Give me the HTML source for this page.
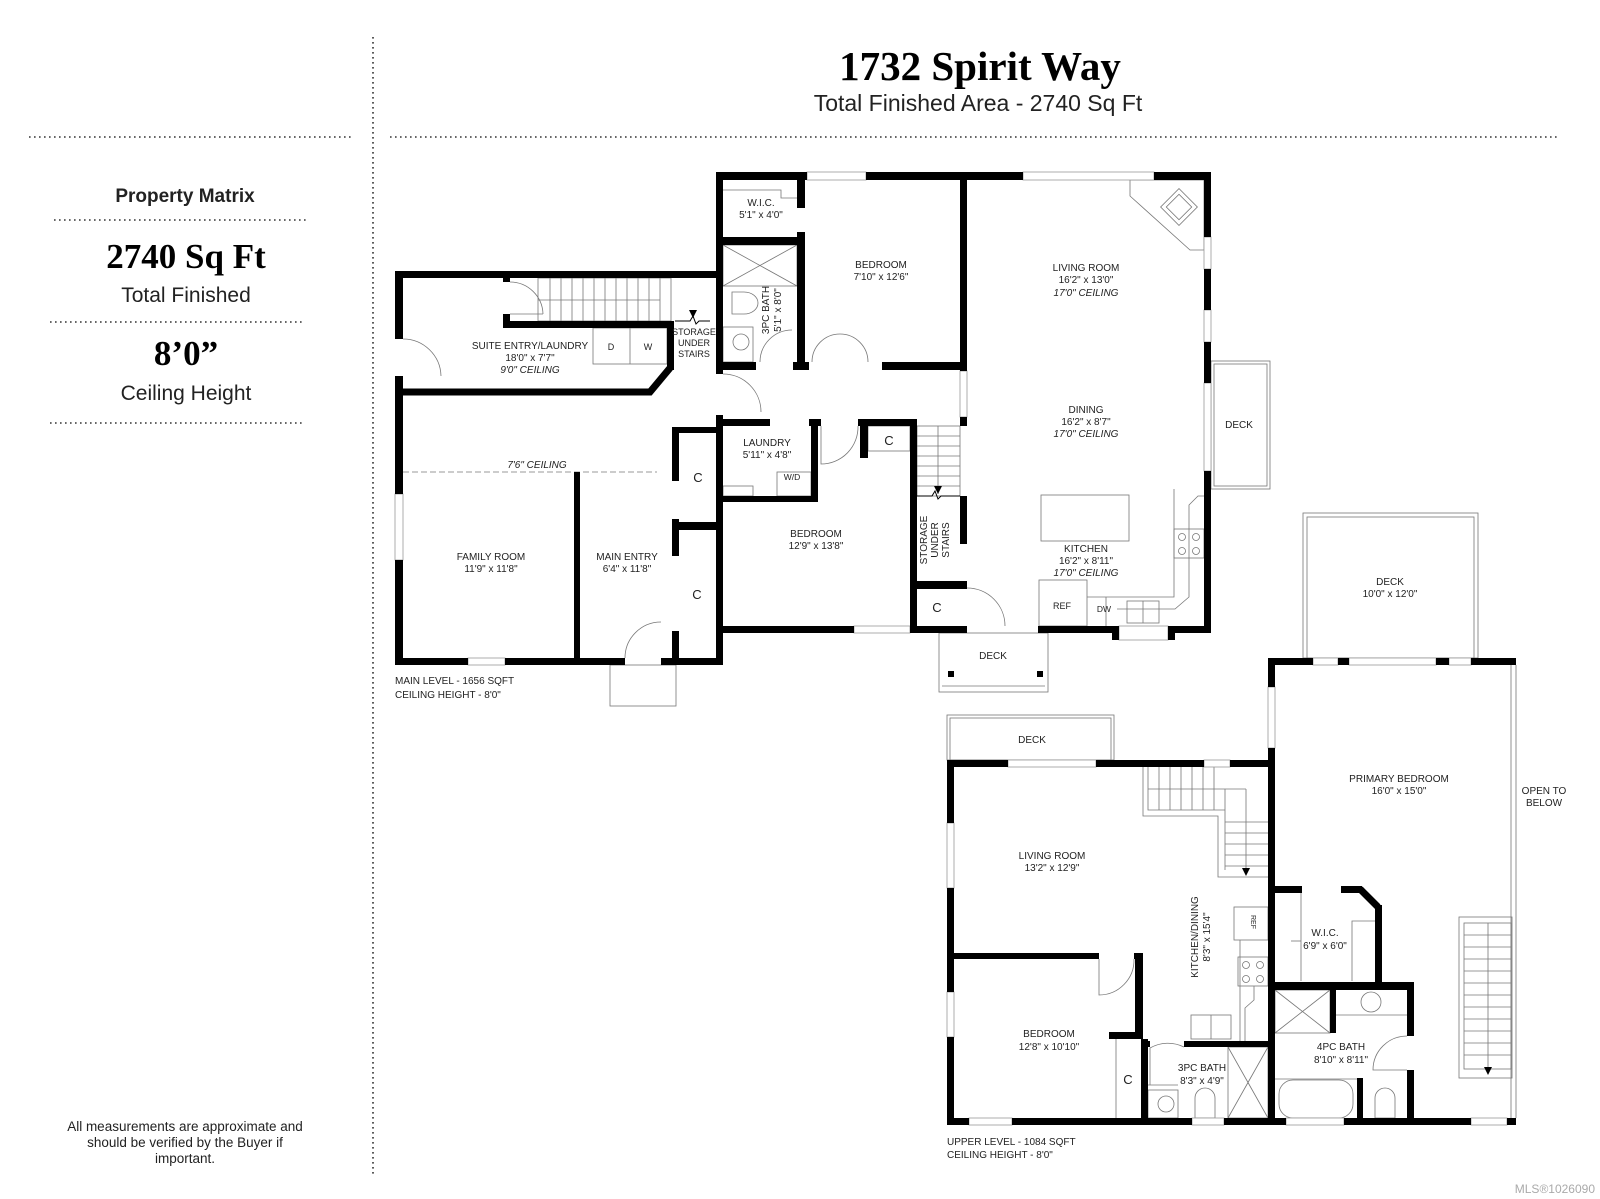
<!DOCTYPE html>
<html><head><meta charset="utf-8"><style>
html,body{margin:0;padding:0;background:#fff;}
svg{display:block}
.l{font-family:"Liberation Sans",sans-serif;font-size:10px;fill:#222;text-anchor:middle}
.i{font-style:italic}
.w{fill:#000}
.t{fill:none;stroke:#777;stroke-width:0.8}
.win{fill:#fff;stroke:#999;stroke-width:0.8}
</style></head><body>
<svg width="1600" height="1199" viewBox="0 0 1600 1199" xmlns="http://www.w3.org/2000/svg">
<!-- dotted frame -->
<g stroke="#333" stroke-width="1.6" stroke-dasharray="1.6 3.4" fill="none">
<line x1="373" y1="37" x2="373" y2="1176"/>
<line x1="29" y1="137" x2="353" y2="137"/>
<line x1="390" y1="137" x2="1560" y2="137"/>
<line x1="54" y1="220" x2="308" y2="220"/>
<line x1="50" y1="322" x2="304" y2="322"/>
<line x1="50" y1="423" x2="304" y2="423"/>
</g>
<text x="980" y="80" style="font-family:'Liberation Serif',serif;font-weight:bold;font-size:41px" text-anchor="middle">1732 Spirit Way</text>
<text x="978" y="111" style="font-family:'Liberation Sans',sans-serif;font-size:23px" text-anchor="middle" fill="#222">Total Finished Area - 2740 Sq Ft</text>
<text x="185" y="202" style="font-family:'Liberation Sans',sans-serif;font-weight:bold;font-size:19px" text-anchor="middle" fill="#222">Property Matrix</text>
<text x="186" y="268" style="font-family:'Liberation Serif',serif;font-weight:bold;font-size:35px" text-anchor="middle">2740 Sq Ft</text>
<text x="186" y="302" style="font-family:'Liberation Sans',sans-serif;font-size:21px" text-anchor="middle" fill="#222">Total Finished</text>
<text x="186" y="365" style="font-family:'Liberation Serif',serif;font-weight:bold;font-size:35px" text-anchor="middle">8’0”</text>
<text x="186" y="400" style="font-family:'Liberation Sans',sans-serif;font-size:21px" text-anchor="middle" fill="#222">Ceiling Height</text>
<g style="font-family:'Liberation Sans',sans-serif;font-size:13.5px" text-anchor="middle" fill="#222">
<text x="185" y="1131">All measurements are approximate and</text>
<text x="185" y="1147">should be verified by the Buyer if</text>
<text x="185" y="1163">important.</text>
</g>
<text x="1595" y="1193" style="font-family:'Liberation Sans',sans-serif;font-size:12px" text-anchor="end" fill="#aaa">MLS®1026090</text>

<!-- decks -->
<g class="t">
<rect x="1211" y="361" width="59" height="128"/><rect x="1214" y="364" width="53" height="122"/>
<rect x="939" y="633" width="109" height="59"/><line x1="942" y1="686" x2="1045" y2="686"/>
<rect x="1303" y="513" width="175" height="145"/><rect x="1307" y="517" width="167" height="141"/>
<rect x="610" y="665" width="66" height="41"/>
<rect x="947" y="715" width="167" height="45"/><rect x="950" y="718" width="161" height="42"/>
<line x1="1511" y1="665" x2="1511" y2="1118"/><line x1="1516" y1="665" x2="1516" y2="1118"/>
</g>
<rect class="w" x="948" y="671" width="6" height="6"/><rect class="w" x="1037" y="671" width="6" height="6"/>

<!-- fixtures main -->
<g class="t">
<!-- suite stairs -->
<rect x="538" y="278" width="133" height="43"/>
<g><line x1="550" y1="278" x2="550" y2="321"/><line x1="561" y1="278" x2="561" y2="321"/><line x1="572" y1="278" x2="572" y2="321"/><line x1="583" y1="278" x2="583" y2="321"/><line x1="594" y1="278" x2="594" y2="321"/><line x1="605" y1="278" x2="605" y2="321"/><line x1="616" y1="278" x2="616" y2="321"/><line x1="627" y1="278" x2="627" y2="321"/><line x1="638" y1="278" x2="638" y2="321"/><line x1="649" y1="278" x2="649" y2="321"/><line x1="660" y1="278" x2="660" y2="321"/></g>
<line x1="538" y1="300" x2="660" y2="300"/>
<rect x="593" y="328" width="74" height="36"/><line x1="630" y1="328" x2="630" y2="364"/>
<path d="M510 282 A33 33 0 0 1 543 314"/><line x1="510" y1="314" x2="543" y2="314"/>
<path d="M403 339 A38 38 0 0 1 441 376"/>
<path d="M723 374 A38 38 0 0 1 761 412"/>
<!-- bath -->
<rect x="723" y="245" width="74" height="41"/><line x1="723" y1="245" x2="797" y2="286"/><line x1="797" y1="245" x2="723" y2="286"/>
<path d="M744 292 h-12 v22 h12 a14 11 0 0 0 0 -22z"/>
<rect x="723" y="327" width="30" height="35"/><circle cx="741" cy="342" r="8"/>
<path d="M760 362 A32 32 0 0 1 792 330"/>
<path d="M812 362 A28 28 0 0 1 840 334 M868 362 A28 28 0 0 0 840 334"/>
<polyline points="723,190 781,190 781,198 797,198"/>
<!-- living fireplace -->
<polygon points="1130,180 1130,196 1190,250 1204,250 1204,180"/>
<rect x="1166" y="194" width="26" height="26" transform="rotate(45 1179 207)"/><rect x="1170" y="198" width="18" height="18" transform="rotate(45 1179 207)"/>
<!-- main stairs -->
<rect x="917" y="426" width="43" height="70"/>
<g><line x1="917" y1="436" x2="960" y2="436"/><line x1="917" y1="446" x2="960" y2="446"/><line x1="917" y1="456" x2="960" y2="456"/><line x1="917" y1="466" x2="960" y2="466"/><line x1="917" y1="476" x2="960" y2="476"/><line x1="917" y1="486" x2="960" y2="486"/></g>
<line x1="938" y1="426" x2="938" y2="494"/>
<!-- kitchen -->
<rect x="1041" y="495" width="88" height="46"/>
<rect x="1039" y="580" width="48" height="46"/><line x1="1087" y1="597" x2="1117" y2="597"/><line x1="1106" y1="597" x2="1106" y2="626"/>
<polyline points="1174,489 1174,597 1117,597"/>
<polyline points="1204,496 1198,496 1189,505 1189,597 1175,609 1117,609"/>
<rect x="1174" y="529" width="30" height="29"/>
<circle cx="1182" cy="537" r="3.5"/><circle cx="1196" cy="537" r="3.5"/><circle cx="1182" cy="551" r="3.5"/><circle cx="1196" cy="551" r="3.5"/>
<rect x="1127" y="601" width="32" height="22"/><line x1="1143" y1="601" x2="1143" y2="623"/>
<!-- laundry -->
<rect x="777" y="472" width="34" height="24"/><rect x="723" y="486" width="30" height="10"/>
<path d="M821 426 v38 A37 37 0 0 0 858 426"/>
<rect x="868" y="426" width="42" height="25"/>
<path d="M967 588 A38 38 0 0 1 1005 626"/>
<path d="M625 658 A36 36 0 0 1 661 622"/>
<line x1="403" y1="472" x2="657" y2="472" stroke-dasharray="6 3"/>
<rect x="723" y="433" width="0" height="0"/>
</g>
<!-- windows main -->
<rect class="win" x="807" y="172" width="59" height="8"/>
<rect class="win" x="1023" y="172" width="131" height="8"/>
<rect class="win" x="1204" y="237" width="7" height="32"/>
<rect class="win" x="1204" y="310" width="7" height="32"/>
<rect class="win" x="1204" y="383" width="7" height="88"/>
<rect class="win" x="395" y="494" width="8" height="66"/>
<rect class="win" x="468" y="658" width="37" height="7"/>
<rect class="win" x="854" y="626" width="56" height="7"/>
<rect class="win" x="1119" y="626" width="49" height="14"/>
<rect class="win" x="960" y="371" width="7" height="46"/>

<!-- walls main -->
<g class="w">
<rect x="716" y="172" width="91" height="8"/><rect x="866" y="172" width="157" height="8"/><rect x="1154" y="172" width="57" height="8"/>
<rect x="716" y="172" width="7" height="202"/><rect x="716" y="415" width="7" height="250"/>
<rect x="797" y="172" width="8" height="36"/><rect x="797" y="232" width="8" height="138"/>
<rect x="723" y="237" width="74" height="8"/>
<rect x="960" y="172" width="7" height="199"/>
<rect x="716" y="362" width="40" height="8"/><rect x="793" y="362" width="16" height="8"/><rect x="882" y="362" width="85" height="8"/>
<rect x="1204" y="172" width="7" height="65"/><rect x="1204" y="269" width="7" height="41"/><rect x="1204" y="342" width="7" height="41"/><rect x="1204" y="471" width="7" height="162"/>
<rect x="1168" y="626" width="43" height="7"/><rect x="1038" y="626" width="81" height="7"/><rect x="1112" y="626" width="7" height="14"/><rect x="1168" y="626" width="7" height="14"/>
<rect x="395" y="271" width="328" height="7"/>
<rect x="395" y="271" width="8" height="68"/><rect x="395" y="376" width="8" height="118"/><rect x="395" y="560" width="8" height="105"/>
<rect x="503" y="278" width="7" height="4"/><rect x="503" y="314" width="7" height="14"/>
<rect x="503" y="321" width="171" height="7"/>
<rect x="667" y="321" width="7" height="49"/>
<polyline points="670,368 650,392 395,392" fill="none" stroke="#000" stroke-width="7"/>
<rect x="395" y="658" width="73" height="7"/><rect x="505" y="658" width="120" height="7"/><rect x="661" y="658" width="62" height="7"/>
<rect x="574" y="472" width="6" height="186"/>
<rect x="672" y="427" width="7" height="54"/><rect x="672" y="519" width="7" height="37"/><rect x="672" y="631" width="7" height="27"/>
<rect x="672" y="427" width="51" height="6"/><rect x="672" y="522" width="51" height="8"/>
<rect x="716" y="419" width="54" height="7"/><rect x="809" y="419" width="12" height="7"/><rect x="858" y="419" width="59" height="7"/>
<rect x="811" y="419" width="7" height="83"/><rect x="716" y="496" width="102" height="6"/>
<rect x="860" y="419" width="8" height="39"/>
<rect x="910" y="419" width="7" height="214"/>
<rect x="910" y="581" width="57" height="8"/>
<rect x="960" y="417" width="7" height="9"/><rect x="960" y="496" width="7" height="48"/>
<rect x="716" y="626" width="138" height="7"/><rect x="910" y="626" width="57" height="7"/>
</g>
<!-- arrows -->
<polygon points="689,310 697,310 693,318" fill="#000"/><polygon points="934,486 942,486 938,494" fill="#000"/>
<polyline points="675,321 690,321 693,316 696,324 699,321 710,321" fill="none" stroke="#000" stroke-width="1"/>
<polyline points="917,496 932,496 935,491 938,499 941,496 960,496" fill="none" stroke="#000" stroke-width="1"/>

<!-- main labels -->
<g class="l">
<text x="761" y="206">W.I.C.</text><text x="761" y="218">5'1" x 4'0"</text>
<text x="881" y="268">BEDROOM</text><text x="881" y="280">7'10" x 12'6"</text>
<text x="769" y="310" transform="rotate(-90 769 310)">3PC BATH</text>
<text x="781" y="310" transform="rotate(-90 781 310)">5'1" x 8'0"</text>
<text x="530" y="349">SUITE ENTRY/LAUNDRY</text><text x="530" y="361">18'0" x 7'7"</text><text class="l i" x="530" y="373">9'0" CEILING</text>
<text x="611" y="350" style="font-size:9px">D</text><text x="648" y="350" style="font-size:9px">W</text>
<text x="694" y="335" style="font-size:9px">STORAGE</text><text x="694" y="346" style="font-size:9px">UNDER</text><text x="694" y="357" style="font-size:9px">STAIRS</text>
<text class="l i" x="537" y="468">7'6" CEILING</text>
<text x="491" y="560">FAMILY ROOM</text><text x="491" y="572">11'9" x 11'8"</text>
<text x="627" y="560">MAIN ENTRY</text><text x="627" y="572">6'4" x 11'8"</text>
<text x="698" y="482" style="font-size:13px">C</text><text x="697" y="599" style="font-size:13px">C</text>
<text x="767" y="446">LAUNDRY</text><text x="767" y="458">5'11" x 4'8"</text>
<text x="792" y="480" style="font-size:8.5px">W/D</text>
<text x="889" y="445" style="font-size:13px">C</text>
<text x="816" y="537">BEDROOM</text><text x="816" y="549">12'9" x 13'8"</text>
<text x="927" y="540" transform="rotate(-90 927 540)">STORAGE</text>
<text x="938" y="540" transform="rotate(-90 938 540)">UNDER</text>
<text x="949" y="540" transform="rotate(-90 949 540)">STAIRS</text>
<text x="937" y="612" style="font-size:13px">C</text>
<text x="1086" y="271">LIVING ROOM</text><text x="1086" y="283">16'2" x 13'0"</text><text class="l i" x="1086" y="296">17'0" CEILING</text>
<text x="1086" y="413">DINING</text><text x="1086" y="425">16'2" x 8'7"</text><text class="l i" x="1086" y="437">17'0" CEILING</text>
<text x="1239" y="428">DECK</text>
<text x="1086" y="552">KITCHEN</text><text x="1086" y="564">16'2" x 8'11"</text><text class="l i" x="1086" y="576">17'0" CEILING</text>
<text x="1062" y="609" style="font-size:9px">REF</text><text x="1104" y="612" style="font-size:8.5px">DW</text>
<text x="993" y="659">DECK</text>
<text x="1390" y="585">DECK</text><text x="1390" y="597">10'0" x 12'0"</text>
<text x="395" y="684" text-anchor="start">MAIN LEVEL - 1656 SQFT</text>
<text x="395" y="698" text-anchor="start">CEILING HEIGHT - 8'0"</text>
</g>

<!-- upper level fixtures -->
<g class="t">
<polyline points="1143,767 1143,816 1218,816 1218,877 1268,877"/>
<polyline points="1148,767 1148,810 1225,810"/>
<line x1="1225" y1="789" x2="1225" y2="870"/><line x1="1148" y1="789" x2="1246" y2="789"/>
<line x1="1159" y1="767" x2="1159" y2="810"/><line x1="1170" y1="767" x2="1170" y2="810"/><line x1="1181" y1="767" x2="1181" y2="810"/><line x1="1192" y1="767" x2="1192" y2="810"/><line x1="1203" y1="767" x2="1203" y2="810"/><line x1="1214" y1="767" x2="1214" y2="810"/>
<line x1="1225" y1="822" x2="1268" y2="822"/><line x1="1225" y1="833" x2="1268" y2="833"/><line x1="1225" y1="844" x2="1268" y2="844"/><line x1="1225" y1="855" x2="1268" y2="855"/><line x1="1225" y1="866" x2="1268" y2="866"/>
<line x1="1246" y1="789" x2="1246" y2="868"/>
<rect x="1234" y="907" width="34" height="33"/>
<rect x="1238" y="957" width="30" height="29"/>
<circle cx="1246" cy="965" r="3.5"/><circle cx="1260" cy="965" r="3.5"/><circle cx="1246" cy="979" r="3.5"/><circle cx="1260" cy="979" r="3.5"/>
<polyline points="1240,940 1240,1041"/>
<polyline points="1254,986 1254,1000 1245,1008 1245,1041"/>
<rect x="1191" y="1015" width="40" height="24"/><line x1="1211" y1="1015" x2="1211" y2="1039"/>
<path d="M1099 959 v36 A35 35 0 0 0 1134 959"/>
<path d="M1150 1085 v-37 A36 36 0 0 1 1184 1047 M1148 1085 h30"/>
<rect x="1148" y="1090" width="30" height="28"/><circle cx="1166" cy="1104" r="8"/>
<path d="M1195 1118 v-20 a10 10 0 0 1 20 0 v20z"/>
<rect x="1228" y="1047" width="40" height="71"/><line x1="1228" y1="1047" x2="1268" y2="1118"/><line x1="1268" y1="1047" x2="1228" y2="1118"/>
<rect x="1275" y="990" width="55" height="43"/><line x1="1275" y1="990" x2="1330" y2="1033"/><line x1="1330" y1="990" x2="1275" y2="1033"/>
<line x1="1336" y1="1015" x2="1407" y2="1015"/><circle cx="1371" cy="1002" r="10"/>
<path d="M1407 1036 A34 34 0 0 0 1373 1070 h34"/>
<rect x="1279" y="1080" width="74" height="38" rx="14"/><line x1="1275" y1="1079" x2="1357" y2="1079"/>
<path d="M1375 1118 v-20 a10 10 0 0 1 20 0 v20z"/>
<polyline points="1301,893 1301,981"/><polyline points="1291,941 1301,941"/>
<polyline points="1352,981 1352,921 1375,921"/>
<rect x="1459" y="917" width="53" height="161"/><rect x="1464" y="923" width="47" height="146"/>
<line x1="1488" y1="923" x2="1488" y2="1069"/>
<line x1="1464" y1="935" x2="1511" y2="935"/><line x1="1464" y1="947" x2="1511" y2="947"/><line x1="1464" y1="959" x2="1511" y2="959"/><line x1="1464" y1="971" x2="1511" y2="971"/><line x1="1464" y1="983" x2="1511" y2="983"/><line x1="1464" y1="995" x2="1511" y2="995"/><line x1="1464" y1="1007" x2="1511" y2="1007"/><line x1="1464" y1="1019" x2="1511" y2="1019"/><line x1="1464" y1="1031" x2="1511" y2="1031"/><line x1="1464" y1="1043" x2="1511" y2="1043"/><line x1="1464" y1="1055" x2="1511" y2="1055"/>
<line x1="1116" y1="1039" x2="1116" y2="1118"/>
</g>
<polygon points="1242,868 1250,868 1246,876" fill="#000"/><polygon points="1484,1067 1492,1067 1488,1075" fill="#000"/>
<!-- upper windows -->
<rect class="win" x="1008" y="760" width="88" height="7"/><rect class="win" x="1204" y="760" width="26" height="7"/>
<rect class="win" x="947" y="823" width="7" height="65"/><rect class="win" x="947" y="992" width="7" height="45"/>
<rect class="win" x="969" y="1118" width="43" height="7"/><rect class="win" x="1192" y="1118" width="32" height="7"/><rect class="win" x="1286" y="1118" width="58" height="7"/><rect class="win" x="1471" y="1118" width="36" height="7"/>
<rect class="win" x="1268" y="687" width="7" height="61"/>
<rect class="win" x="1313" y="658" width="25" height="7"/><rect class="win" x="1349" y="658" width="87" height="7"/><rect class="win" x="1449" y="658" width="22" height="7"/>
<!-- upper walls -->
<g class="w">
<rect x="947" y="760" width="61" height="7"/><rect x="1096" y="760" width="108" height="7"/><rect x="1230" y="760" width="45" height="7"/>
<rect x="947" y="760" width="7" height="63"/><rect x="947" y="888" width="7" height="104"/><rect x="947" y="1037" width="7" height="88"/>
<rect x="947" y="1118" width="22" height="7"/><rect x="1012" y="1118" width="180" height="7"/><rect x="1224" y="1118" width="62" height="7"/><rect x="1344" y="1118" width="127" height="7"/><rect x="1507" y="1118" width="9" height="7"/>
<rect x="1268" y="658" width="45" height="7"/><rect x="1338" y="658" width="11" height="7"/><rect x="1436" y="658" width="13" height="7"/><rect x="1471" y="658" width="45" height="7"/>
<rect x="1268" y="658" width="7" height="29"/><rect x="1268" y="748" width="7" height="377"/>
<rect x="954" y="953" width="145" height="6"/><rect x="1134" y="953" width="9" height="6"/>
<rect x="1135" y="953" width="8" height="86"/><rect x="1109" y="1032" width="34" height="7"/>
<rect x="1141" y="1039" width="7" height="86"/>
<rect x="1141" y="1041" width="9" height="6"/><rect x="1184" y="1041" width="84" height="6"/>
<rect x="1275" y="886" width="27" height="7"/><rect x="1341" y="886" width="21" height="7"/>
<polyline points="1360,889 1378,907" fill="none" stroke="#000" stroke-width="7"/>
<rect x="1375" y="905" width="7" height="80"/>
<rect x="1275" y="982" width="139" height="8"/>
<rect x="1407" y="982" width="7" height="54"/><rect x="1407" y="1070" width="7" height="55"/>
<rect x="1330" y="990" width="6" height="43"/>
<rect x="1357" y="1078" width="6" height="47"/>
</g>
<g class="l">
<text x="1032" y="743">DECK</text>
<text x="1399" y="782">PRIMARY BEDROOM</text><text x="1399" y="794">16'0" x 15'0"</text>
<text x="1544" y="794">OPEN TO</text><text x="1544" y="806">BELOW</text>
<text x="1052" y="859">LIVING ROOM</text><text x="1052" y="871">13'2" x 12'9"</text>
<text x="1198" y="937" transform="rotate(-90 1198 937)">KITCHEN/DINING</text>
<text x="1210" y="937" transform="rotate(-90 1210 937)">8'3" x 15'4"</text>
<text x="1251" y="922" transform="rotate(90 1251 922)" style="font-size:7px">REF</text>
<text x="1325" y="936">W.I.C.</text><text x="1325" y="949">6'9" x 6'0"</text>
<text x="1049" y="1037">BEDROOM</text><text x="1049" y="1050">12'8" x 10'10"</text>
<text x="1128" y="1084" style="font-size:13px">C</text>
<text x="1202" y="1071">3PC BATH</text><text x="1202" y="1084">8'3" x 4'9"</text>
<text x="1341" y="1050">4PC BATH</text><text x="1341" y="1063">8'10" x 8'11"</text>
<text x="947" y="1145" text-anchor="start">UPPER LEVEL - 1084 SQFT</text>
<text x="947" y="1158" text-anchor="start">CEILING HEIGHT - 8'0"</text>
</g>
</svg>
</body></html>
